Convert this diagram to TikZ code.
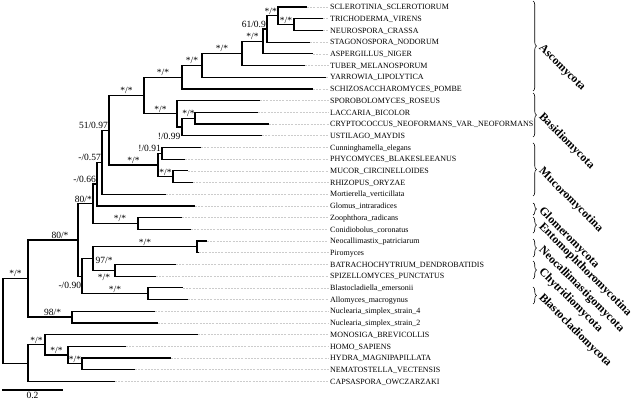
\documentclass[tikz,border=0pt]{standalone}
\usepackage{fontspec}
\setmainfont{Liberation Serif}
\usetikzlibrary{decorations.pathreplacing}

\tikzset{
  br/.style={line width=1.2pt},
  lead/.style={gray!40, line width=0.5pt, dash pattern=on 2pt off 1.2pt},
  taxon/.style={anchor=base west, yshift=-2.7pt, inner sep=0pt, font=\fontsize{8}{9}\selectfont},
  sup/.style={inner sep=0pt, font=\fontsize{9.5}{10}\selectfont},
  mid/.style={sup, pos=0.75, anchor=base, yshift=1.5pt},
  atnode/.style={sup, pos=1, anchor=base east, xshift=-1pt, yshift=1.5pt},
  clade/.style={decorate, decoration={brace, amplitude=3.5pt}, line width=0.6pt},
  cladename/.style={anchor=west, rotate=-45, inner sep=0.5pt, font=\fontsize{11.7}{12}\bfseries\selectfont}
}

\begin{document}
\begin{tikzpicture}[x=1pt, y=-11.7pt]
        \useasboundingbox (0,-0.598) rectangle (636,33.59);

        % Leaves: tip of branch, dashed leader, name
        \foreach \nm/\tx/\txt [count=\r from 0] in {
          sclero/307/SCLEROTINIA\_SCLEROTIORUM,
          tricho/323/TRICHODERMA\_VIRENS,
          neuro/323/NEUROSPORA\_CRASSA,
          stago/310/STAGONOSPORA\_NODORUM,
          asperg/313/ASPERGILLUS\_NIGER,
          tuber/305/TUBER\_MELANOSPORUM,
          yarrow/326/YARROWIA\_LIPOLYTICA,
          schizo/313/SCHIZOSACCHAROMYCES\_POMBE,
          sporob/260/SPOROBOLOMYCES\_ROSEUS,
          lacca/258/LACCARIA\_BICOLOR,
          crypto/269/CRYPTOCOCCUS\_NEOFORMANS\_VAR.\_NEOFORMANS,
          ustil/262/USTILAGO\_MAYDIS,
          cunn/201/Cunninghamella\_elegans,
          phyco/185/PHYCOMYCES\_BLAKESLEEANUS,
          mucor/188/MUCOR\_CIRCINELLOIDES,
          rhizo/193/RHIZOPUS\_ORYZAE,
          mort/166/Mortierella\_verticillata,
          glomus/195/Glomus\_intraradices,
          zooph/182/Zoophthora\_radicans,
          conid/191/Conidiobolus\_coronatus,
          neocal/207/Neocallimastix\_patriciarum,
          pirom/199/Piromyces,
          batra/176/BATRACHOCHYTRIUM\_DENDROBATIDIS,
          spiz/156/SPIZELLOMYCES\_PUNCTATUS,
          blasto/183/Blastocladiella\_emersonii,
          allo/188/Allomyces\_macrogynus,
          nucfour/155/Nuclearia\_simplex\_strain\_4,
          nuctwo/158/Nuclearia\_simplex\_strain\_2,
          monos/198/MONOSIGA\_BREVICOLLIS,
          homo/126/HOMO\_SAPIENS,
          hydra/171/HYDRA\_MAGNIPAPILLATA,
          nemato/135/NEMATOSTELLA\_VECTENSIS,
          capsa/115/CAPSASPORA\_OWCZARZAKI}
        {
          \coordinate (\nm) at (\tx,\r);
          \node[taxon] (\nm-l) at (330,\r) {\txt};
          \draw[lead] (\nm) -- ([xshift=-1.5pt]\nm -| \nm-l.west);
        }

        % Internal nodes
        \coordinate (tn) at (294,1.5);
        \coordinate (stn) at (278,0.75);
        \coordinate (sg) at (267,1.875);
        \coordinate (ag) at (263,2.9375);
        \coordinate (tb) at (242,3.96875);
        \coordinate (yw) at (202,4.984);
        \coordinate (asco) at (182,5.992);
        \coordinate (lc) at (195,9.5);
        \coordinate (us) at (182,10.25);
        \coordinate (basi) at (177,9.125);
        \coordinate (dika) at (144,7.559);
        \coordinate (cp) at (162,12.5);
        \coordinate (mr) at (173,14.5);
        \coordinate (muco) at (158,13.5);
        \coordinate (dm) at (109,10.529);
        \coordinate (mo) at (102,13.265);
        \coordinate (gl) at (97,15.132);
        \coordinate (ento) at (138,18.5);
        \coordinate (ge) at (93,16.816);
        \coordinate (neo) at (197,20.5);
        \coordinate (chy) at (115,22.5);
        \coordinate (nc) at (93,21.5);
        \coordinate (bla) at (148,24.5);
        \coordinate (ncb) at (82,23);
        \coordinate (fungi) at (78,19.908);
        \coordinate (nuc) at (72,26.5);
        \coordinate (holo) at (28,23.204);
        \coordinate (cnid) at (82,30.5);
        \coordinate (meta) at (68,29.75);
        \coordinate (choa) at (45,28.875);
        \coordinate (holoz) at (28,30.4375);
        \coordinate (root) at (3,26.82);

        % Branches
        \foreach \p/\c in {tn/tricho, tn/neuro, stn/sclero, stn/tn, sg/stn, sg/stago,
            ag/sg, ag/asperg, tb/ag, tb/tuber, yw/tb, yw/yarrow, asco/yw, asco/schizo,
            lc/lacca, lc/crypto, us/lc, us/ustil, basi/sporob, basi/us, dika/asco, dika/basi,
            cp/cunn, cp/phyco, mr/mucor, mr/rhizo, muco/cp, muco/mr, dm/dika, dm/muco,
            mo/dm, mo/mort, gl/mo, gl/glomus, ento/zooph, ento/conid, ge/gl, ge/ento,
            neo/neocal, neo/pirom, chy/batra, chy/spiz, nc/neo, nc/chy, bla/blasto, bla/allo,
            ncb/nc, ncb/bla, fungi/ge, fungi/ncb, nuc/nucfour, nuc/nuctwo, holo/fungi, holo/nuc,
            cnid/hydra, cnid/nemato, meta/homo, meta/cnid, choa/monos, choa/meta,
            holoz/choa, holoz/capsa, root/holo, root/holoz}
          \draw[br] (\p) |- (\c);

        % Support values
        \path (stn) |- (tn) node[mid] (s-tn) {*/*};
        \path (sg) |- (stn) node[atnode] (s-stn) {*/*};
        \path (ag) |- (sg) node[atnode] (s-sg) {61/0.9};
        \path (tb) |- (ag) node[mid] (s-ag) {*/*};
        \path (yw) |- (tb) node[mid] (s-tb) {*/*};
        \path (asco) |- (yw) node[mid] (s-yw) {*/*};
        \path (dika) |- (asco) node[mid] (s-asco) {*/*};
        \path (dika) |- (basi) node[mid] (s-basi) {*/*};
        \path (us) |- (lc) node[mid] (s-lc) {*/*};
        \node[sup, anchor=base east, xshift=-1.5pt, yshift=-3.3pt] (s-us) at (us |- ustil) {!/0.99};
        \path (dm) |- (dika) node[mid] (s-dika) {*/*};
        \path (mo) |- (dm) node[atnode] (s-dm) {51/0.97};
        \path (dm) |- (muco) node[mid] (s-muco) {*/*};
        \path (muco) |- (cp) node[atnode] (s-cp) {!/0.91};
        \path (muco) |- (mr) node[mid] (s-mr) {*/*};
        \path (gl) |- (mo) node[atnode] (s-mo) {-/0.57};
        \path (ge) |- (gl) node[atnode] (s-gl) {-/0.66};
        \path (fungi) |- (ge) node[atnode] (s-ge) {80/*};
        \path (ge) |- (ento) node[mid, pos=0.8] (s-ento) {*/*};
        \path (holo) |- (fungi) node[mid, pos=0.82] (s-fungi) {80/*};
        \node[sup, anchor=west, xshift=2.5pt, yshift=-1.5pt] (s-nc) at (nc) {97/*};
        \path (nc) |- (neo) node[mid] (s-neo) {*/*};
        \path (nc) |- (chy) node[sup, pos=0.75, anchor=base, yshift=-10pt] (s-chy) {*/*};
        \path (ncb) |- (bla) node[mid] (s-bla) {*/*};
        \node[sup, anchor=base east, xshift=-0.8pt, yshift=-12.4pt] (s-ncb) at (ncb) {-/0.90};
        \path (root) |- (holo) node[mid] (s-holo) {*/*};
        \path (holo) |- (nuc) node[mid, pos=0.78] (s-nuc) {98/*};
        \path (holoz) |- (choa) node[mid] (s-choa) {*/*};
        \path (choa) |- (meta) node[mid] (s-meta) {*/*};
        \path (meta) |- (cnid) node[mid] (s-cnid) {*/*};

        % Clade braces and names
        \foreach \ya/\yb/\ym/\nm/\txt in {
            -0.513/7.18/3.33/c-asco/Ascomycota,
            7.35/11.11/9.23/c-basi/Basidiomycota,
            11.62/16.15/13.89/c-muco/Mucoromycotina,
            16.75/17.78/17.26/c-glom/Glomeromycota,
            17.95/19.32/18.63/c-ento/Entomophthoromycotina,
            19.83/21.37/20.6/c-neo/Neocallimastigomycota,
            21.71/23.25/22.48/c-chy/Chytridiomycota,
            23.93/25.38/24.66/c-bla/Blastocladiomycota}
        {
          \draw[clade] (533,\ya) -- (533,\yb);
          \node[cladename] (\nm) at (540,\ym) {\txt};
        }

        % Scale bar
        \coordinate (sb-a) at (2,32.735);
        \coordinate (sb-b) at (63,32.735);
        \draw[br] (sb-a) -- (sb-b) node[sup, midway, below=2pt] (sb-l) {0.2};
    \end{tikzpicture}
\end{document}
